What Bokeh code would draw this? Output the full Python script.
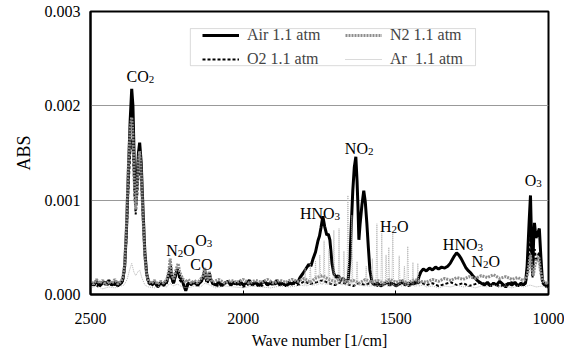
from bokeh.plotting import figure
from bokeh.models import (Range1d, FixedTicker, PrintfTickFormatter, Legend, LegendItem,
                          BoxAnnotation)
from bokeh.core.properties import value
from bokeh.embed import file_html
from bokeh.resources import INLINE

# ---------------- data (wave number [1/cm], ABS) ----------------
air = [(2500,0.00012),(2490,0.00010),(2480,0.00014),(2470,0.00009),(2460,0.00013),(2450,0.00011),(2440,0.00015),(2430,0.00010),(2420,0.00013),(2410,0.00009),(2400,0.00012),(2394,0.00016),(2388,0.00030),(2382,0.00070),(2376,0.00130),(2370,0.00185),(2365,0.00218),(2361,0.00200),(2356,0.00130),(2352,0.00098),(2348,0.00120),(2343,0.00150),(2339,0.00161),(2334,0.00140),(2328,0.00090),(2322,0.00045),(2316,0.00022),(2310,0.00014),(2300,0.00011),(2290,0.00013),(2280,0.00008),(2270,0.00012),(2260,0.00010),(2250,0.00014),(2243,0.00022),(2238,0.00030),(2234,0.00018),(2228,0.00012),(2222,0.00020),(2216,0.00027),(2212,0.00024),(2207,0.00018),(2200,0.00016),(2195,0.00010),(2188,0.00004),(2180,0.00012),(2170,0.00011),(2160,0.00013),(2150,0.00010),(2140,0.00013),(2131,0.00018),(2126,0.00026),(2121,0.00016),(2116,0.00014),(2111,0.00023),(2106,0.00016),(2100,0.00012),(2090,0.00010),(2080,0.00013),(2070,0.00009),(2060,0.00012),(2050,0.00014),(2040,0.00010),(2030,0.00013),(2020,0.00011),(2010,0.00014),(2000,0.00010),(1990,0.00012),(1980,0.00015),(1970,0.00010),(1960,0.00013),(1950,0.00009),(1940,0.00012),(1930,0.00014),(1920,0.00010),(1910,0.00013),(1900,0.00011),(1890,0.00015),(1880,0.00010),(1870,0.00012),(1860,0.00009),(1850,0.00013),(1840,0.00011),(1830,0.00014),(1822,0.00012),(1814,0.00018),(1805,0.00022),(1795,0.00027),(1785,0.00032),(1778,0.00030),(1771,0.00038),(1763,0.00045),(1755,0.00057),(1750,0.00062),(1745,0.00071),(1739,0.00083),(1733,0.00072),(1726,0.00063),(1721,0.00064),(1716,0.00058),(1709,0.00033),(1703,0.00022),(1695,0.00018),(1688,0.00020),(1680,0.00015),(1672,0.00017),(1664,0.00013),(1656,0.00016),(1650,0.00039),(1645,0.00080),(1641,0.00110),(1636,0.00135),(1631,0.00146),(1627,0.00120),(1624,0.00093),(1621,0.00058),(1617,0.00075),(1611,0.00095),(1605,0.00110),(1600,0.00098),(1595,0.00076),(1590,0.00050),(1585,0.00026),(1578,0.00013),(1570,0.00010),(1560,0.00012),(1550,0.00009),(1540,0.00011),(1530,0.00013),(1520,0.00010),(1510,0.00012),(1500,0.00009),(1490,0.00011),(1480,0.00014),(1470,0.00010),(1460,0.00012),(1450,0.00011),(1440,0.00013),(1430,0.00012),(1424,0.00019),(1418,0.00024),(1410,0.00027),(1400,0.00025),(1390,0.00028),(1380,0.00026),(1370,0.00029),(1360,0.00027),(1350,0.00029),(1340,0.00028),(1330,0.00030),(1322,0.00033),(1315,0.00037),(1308,0.00041),(1301,0.00044),(1294,0.00042),(1286,0.00038),(1278,0.00033),(1270,0.00028),(1262,0.00025),(1255,0.00023),(1248,0.00020),(1240,0.00017),(1230,0.00014),(1220,0.00012),(1210,0.00010),(1200,0.00013),(1190,0.00009),(1180,0.00012),(1170,0.00010),(1160,0.00014),(1150,0.00011),(1140,0.00008),(1130,0.00012),(1120,0.00010),(1110,0.00013),(1100,0.00009),(1090,0.00012),(1082,0.00010),(1075,0.00013),(1070,0.00030),(1063,0.00080),(1059,0.00105),(1055,0.00050),(1052,0.00020),(1049,0.00055),(1046,0.00076),(1041,0.00060),(1035,0.00065),(1030,0.00070),(1025,0.00040),(1020,0.00015),(1012,0.00010),(1005,0.00008),(1000,0.00009)]

o2 = [(2500,0.00010),(2490,0.00013),(2480,0.00008),(2470,0.00012),(2460,0.00010),(2450,0.00014),(2440,0.00009),(2430,0.00012),(2420,0.00010),(2410,0.00013),(2400,0.00011),(2394,0.00014),(2388,0.00026),(2382,0.00060),(2376,0.00110),(2370,0.00150),(2365,0.00165),(2361,0.00150),(2356,0.00105),(2352,0.00085),(2348,0.00100),(2343,0.00125),(2339,0.00138),(2334,0.00120),(2328,0.00075),(2322,0.00038),(2316,0.00018),(2310,0.00012),(2300,0.00009),(2290,0.00012),(2280,0.00010),(2270,0.00013),(2260,0.00009),(2250,0.00012),(2243,0.00020),(2238,0.00026),(2234,0.00016),(2228,0.00011),(2222,0.00018),(2216,0.00024),(2212,0.00021),(2207,0.00015),(2200,0.00012),(2190,0.00009),(2180,0.00012),(2170,0.00010),(2160,0.00013),(2150,0.00009),(2140,0.00012),(2131,0.00016),(2126,0.00022),(2121,0.00014),(2116,0.00012),(2111,0.00020),(2106,0.00014),(2100,0.00011),(2080,0.00009),(2060,0.00013),(2040,0.00010),(2020,0.00012),(2000,0.00008),(1980,0.00011),(1960,0.00013),(1940,0.00009),(1920,0.00012),(1900,0.00010),(1880,0.00013),(1860,0.00009),(1840,0.00012),(1820,0.00010),(1800,0.00014),(1780,0.00011),(1760,0.00013),(1740,0.00015),(1720,0.00012),(1700,0.00010),(1680,0.00013),(1660,0.00011),(1640,0.00009),(1620,0.00012),(1600,0.00010),(1580,0.00013),(1560,0.00009),(1540,0.00011),(1520,0.00013),(1500,0.00010),(1480,0.00012),(1460,0.00009),(1440,0.00011),(1420,0.00013),(1400,0.00010),(1380,0.00012),(1360,0.00009),(1340,0.00011),(1320,0.00013),(1300,0.00010),(1280,0.00012),(1260,0.00009),(1240,0.00011),(1220,0.00013),(1200,0.00010),(1180,0.00012),(1160,0.00008),(1140,0.00011),(1120,0.00013),(1100,0.00009),(1085,0.00011),(1075,0.00011),(1068,0.00025),(1062,0.00050),(1059,0.00060),(1055,0.00035),(1052,0.00018),(1048,0.00040),(1045,0.00048),(1040,0.00035),(1034,0.00042),(1030,0.00045),(1025,0.00025),(1020,0.00012),(1010,0.00009),(1000,0.00010)]

n2 = [(2500,0.00014),(2490,0.00011),(2480,0.00016),(2470,0.00012),(2460,0.00015),(2450,0.00010),(2440,0.00014),(2430,0.00012),(2420,0.00016),(2410,0.00011),(2400,0.00014),(2394,0.00018),(2388,0.00032),(2382,0.00075),(2376,0.00135),(2370,0.00175),(2365,0.00188),(2361,0.00170),(2356,0.00115),(2352,0.00090),(2348,0.00110),(2343,0.00140),(2339,0.00152),(2334,0.00130),(2328,0.00082),(2322,0.00040),(2316,0.00020),(2310,0.00014),(2300,0.00012),(2290,0.00015),(2280,0.00011),(2270,0.00014),(2260,0.00012),(2250,0.00016),(2243,0.00026),(2239,0.00038),(2234,0.00022),(2228,0.00016),(2222,0.00024),(2213,0.00033),(2208,0.00024),(2200,0.00018),(2190,0.00013),(2180,0.00016),(2170,0.00012),(2160,0.00015),(2150,0.00012),(2140,0.00016),(2131,0.00020),(2126,0.00028),(2121,0.00017),(2116,0.00015),(2111,0.00024),(2106,0.00016),(2100,0.00013),(2080,0.00016),(2060,0.00012),(2040,0.00015),(2020,0.00013),(2000,0.00016),(1980,0.00012),(1960,0.00015),(1940,0.00013),(1920,0.00016),(1900,0.00012),(1880,0.00015),(1860,0.00013),(1840,0.00016),(1820,0.00014),(1800,0.00017),(1780,0.00013),(1760,0.00018),(1740,0.00020),(1720,0.00016),(1700,0.00014),(1680,0.00017),(1660,0.00013),(1640,0.00015),(1620,0.00012),(1600,0.00016),(1580,0.00013),(1560,0.00015),(1540,0.00012),(1520,0.00016),(1500,0.00013),(1480,0.00015),(1460,0.00012),(1440,0.00016),(1420,0.00014),(1400,0.00013),(1380,0.00016),(1360,0.00014),(1340,0.00017),(1320,0.00015),(1300,0.00018),(1280,0.00016),(1260,0.00019),(1240,0.00017),(1220,0.00020),(1200,0.00018),(1180,0.00021),(1160,0.00017),(1140,0.00019),(1120,0.00016),(1100,0.00018),(1085,0.00015),(1075,0.00016),(1068,0.00022),(1062,0.00036),(1059,0.00042),(1055,0.00028),(1050,0.00020),(1045,0.00030),(1038,0.00038),(1032,0.00040),(1026,0.00024),(1020,0.00015),(1010,0.00012),(1000,0.00013)]

ar = [(2500,0.00007),(2480,0.00009),(2460,0.00006),(2440,0.00008),(2420,0.00007),(2400,0.00009),(2390,0.00010),(2380,0.00016),(2372,0.00026),(2365,0.00033),(2358,0.00024),(2352,0.00020),(2345,0.00024),(2339,0.00026),(2332,0.00018),(2322,0.00010),(2310,0.00008),(2290,0.00007),(2270,0.00009),(2250,0.00008),(2240,0.00012),(2230,0.00009),(2215,0.00011),(2200,0.00008),(2180,0.00007),(2160,0.00009),(2140,0.00008),(2125,0.00012),(2110,0.00010),(2090,0.00007),(2060,0.00009),(2030,0.00008),(2000,0.00007),(1970,0.00009),(1940,0.00008),(1910,0.00007),(1880,0.00009),(1850,0.00008),(1825,0.00009),(1810,0.00010),(1800,0.00009),(1797,0.00028),(1794,0.00009),(1783,0.00010),(1780,0.00032),(1777,0.00010),(1766,0.00010),(1763,0.00036),(1760,0.00010),(1752,0.00011),(1749,0.00042),(1746,0.00011),(1738,0.00011),(1735,0.00057),(1732,0.00011),(1722,0.00011),(1719,0.00048),(1716,0.00011),(1706,0.00011),(1703,0.00068),(1700,0.00011),(1689,0.00011),(1686,0.00070),(1683,0.00011),(1673,0.00010),(1670,0.00046),(1667,0.00010),(1660,0.00010),(1657,0.00105),(1654,0.00010),(1647,0.00010),(1644,0.00084),(1641,0.00010),(1630,0.00010),(1627,0.00035),(1624,0.00010),(1600,0.00009),(1597,0.00030),(1594,0.00009),(1580,0.00009),(1577,0.00038),(1574,0.00009),(1565,0.00009),(1562,0.00075),(1559,0.00009),(1549,0.00009),(1546,0.00065),(1543,0.00009),(1535,0.00009),(1532,0.00042),(1529,0.00009),(1526,0.00009),(1523,0.00050),(1520,0.00009),(1513,0.00009),(1510,0.00066),(1507,0.00009),(1492,0.00009),(1489,0.00041),(1486,0.00009),(1475,0.00009),(1472,0.00030),(1469,0.00009),(1464,0.00009),(1461,0.00051),(1458,0.00009),(1447,0.00009),(1444,0.00034),(1441,0.00009),(1431,0.00009),(1428,0.00033),(1425,0.00009),(1410,0.00010),(1400,0.00008),(1380,0.00009),(1360,0.00007),(1340,0.00009),(1320,0.00008),(1300,0.00010),(1280,0.00008),(1260,0.00009),(1240,0.00007),(1220,0.00009),(1200,0.00008),(1180,0.00010),(1160,0.00008),(1140,0.00009),(1120,0.00007),(1100,0.00009),(1080,0.00008),(1060,0.00010),(1040,0.00008),(1020,0.00009),(1000,0.00007)]

series_labels = ["Air 1.1 atm", "O2 1.1 atm", "N2 1.1 atm", "Ar  1.1 atm"]
x_ticks = [2500, 2000, 1500, 1000]
y_ticks = [0.0, 0.001, 0.002, 0.003]

# peak annotations: (text, subscript, text after subscript, wave number, ABS at baseline)
peak_labels = [
    ("CO", "2", "", 2382, 0.00231),
    ("N", "2", "O", 2252, 0.000466),
    ("O", "3", "", 2157, 0.000572),
    ("CO", "", "", 2173, 0.000318),
    ("HNO", "3", "", 1814, 0.000859),
    ("NO", "2", "", 1667, 0.001548),
    ("H", "2", "O", 1552, 0.000721),
    ("HNO", "3", "", 1346, 0.00053),
    ("N", "2", "O", 1252, 0.00035),
    ("O", "3", "", 1078, 0.00121),
]

SERIF = "Liberation Serif"
FRAME_W, FRAME_H = 458, 283

p = figure(frame_width=FRAME_W, frame_height=FRAME_H, output_backend="svg", toolbar_location=None,
           x_range=Range1d(2500, 1000), y_range=Range1d(0, 0.003),
           min_border_left=90, min_border_right=16, min_border_top=11, min_border_bottom=58,
           background_fill_color="white", border_fill_color="white")
p.outline_line_color = "black"
p.outline_line_width = 2

def unzip(d):
    return [a for a, _ in d], [b for _, b in d]

r_air = p.line(*unzip(air), line_color="black", line_width=3)
r_o2 = p.line(*unzip(o2), line_color="black", line_width=2, line_dash="3 2")
r_n2 = p.line(*unzip(n2), line_color="#8e8e8e", line_width=3, line_dash="2 1")
r_ar = p.line(*unzip(ar), line_color="#b4b4b4", line_width=1, line_dash="1 1")

# axes
p.xaxis.ticker = FixedTicker(ticks=x_ticks)
p.yaxis.ticker = FixedTicker(ticks=y_ticks)
p.yaxis.formatter = PrintfTickFormatter(format="%.3f")
for ax in (p.xaxis[0], p.yaxis[0]):
    ax.axis_line_color = "black"
    ax.axis_line_width = 2
    ax.major_label_text_font = SERIF
    ax.major_label_text_font_size = "16px"
    ax.major_label_text_color = "black"
    ax.minor_tick_line_color = None
    ax.axis_label_text_font = SERIF
    ax.axis_label_text_font_style = "normal"
    ax.axis_label_text_color = "black"
p.xaxis.axis_label = "Wave number [1/cm]"
p.xaxis.axis_label_text_font_size = "16px"
p.xaxis.axis_label_standoff = 5
p.yaxis.axis_label = "ABS"
p.yaxis.axis_label_text_font_size = "18px"
p.yaxis.axis_label_standoff = 8
p.xaxis.major_tick_in = 4
p.xaxis.major_tick_out = 0
p.xaxis.major_tick_line_color = "black"
p.xaxis.major_label_standoff = 18
p.yaxis.major_tick_in = 0
p.yaxis.major_tick_out = 0
p.yaxis.major_label_standoff = 10

p.xgrid.grid_line_color = None
p.ygrid.grid_line_color = "#999999"
p.ygrid.grid_line_width = 1

# peak labels with subscripts
W = {'C': .667, 'O': .722, 'N': .722, 'H': .722, '2': .5, '3': .5}
xk = 1500 / FRAME_W
yk = 0.003 / FRAME_H
main_x, main_y, main_t, sub_x, sub_y, sub_t = [], [], [], [], [], []
for pre, sub, post, wn, ab in peak_labels:
    wpre = sum(W[c] for c in pre) * 16
    main_x.append(wn); main_y.append(ab); main_t.append(pre)
    if sub:
        sub_x.append(wn - wpre * xk); sub_y.append(ab - 3 * yk); sub_t.append(sub)
        if post:
            wsub = sum(W[c] for c in sub) * 11
            main_x.append(wn - (wpre + wsub) * xk); main_y.append(ab); main_t.append(post)
p.text(x=main_x, y=main_y, text=main_t, text_font=value(SERIF), text_font_size="16px",
       text_align="left", text_baseline="alphabetic", text_color="black")
p.text(x=sub_x, y=sub_y, text=sub_t, text_font=value(SERIF), text_font_size="11px",
       text_align="left", text_baseline="alphabetic", text_color="black")

# legend box
p.add_layout(BoxAnnotation(left=2173, right=1239, top=0.002819, bottom=0.002426,
                           fill_color="white", fill_alpha=1, line_color="#888888",
                           line_width=1, level="underlay"))
legend = Legend(items=[LegendItem(label=series_labels[0], renderers=[r_air]),
                       LegendItem(label=series_labels[1], renderers=[r_o2]),
                       LegendItem(label=series_labels[2], renderers=[r_n2]),
                       LegendItem(label=series_labels[3], renderers=[r_ar])],
                location=(112, 226), ncols=2, padding=0, margin=0, spacing=6,
                glyph_width=37, glyph_height=16, label_height=16, label_width=92,
                label_standoff=8, label_text_font=SERIF, label_text_font_size="16px",
                border_line_alpha=0, background_fill_alpha=0)
p.add_layout(legend)

open("out.html", "w").write(file_html(p, INLINE))
